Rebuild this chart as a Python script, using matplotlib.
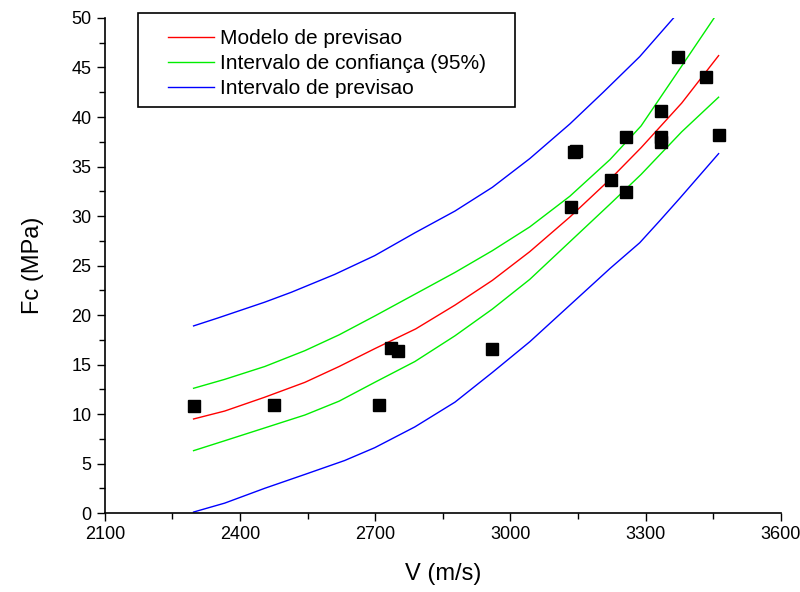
import matplotlib.pyplot as plt
import matplotlib.ticker as ticker
from matplotlib.patches import Rectangle

plt.rcParams['font.family'] = ['Liberation Sans', 'DejaVu Sans']

# ensaios (V, Fc)
v_data = [2297, 2475, 2708, 2735, 2750, 2959, 3134, 3141, 3145, 3223,
          3256, 3256, 3334, 3334, 3334, 3371, 3433, 3462]
fc_data = [10.8, 10.9, 10.9, 16.7, 16.4, 16.6, 30.9, 36.5, 36.6, 33.6,
           38.0, 32.4, 40.6, 38.0, 37.5, 46.1, 44.0, 38.2]

# curvas
v_model = [2297, 2366, 2455, 2544, 2620, 2699, 2790, 2877, 2960, 3043,
           3132, 3221, 3290, 3380, 3462]
fc_model = [9.5, 10.3, 11.7, 13.2, 14.8, 16.6, 18.6, 21.0, 23.5, 26.4,
            29.9, 33.7, 36.9, 41.4, 46.2]

v_conf_up = [2297, 2366, 2455, 2544, 2620, 2699, 2788, 2877, 2960, 3043,
             3132, 3221, 3290, 3369, 3452]
fc_conf_up = [12.6, 13.5, 14.8, 16.4, 18.0, 19.9, 22.1, 24.3, 26.5, 28.9,
              32.0, 35.7, 39.1, 44.4, 50.0]

v_conf_lo = [2297, 2366, 2455, 2544, 2620, 2699, 2788, 2877, 2960, 3043,
             3132, 3221, 3290, 3380, 3462]
fc_conf_lo = [6.3, 7.3, 8.6, 9.9, 11.3, 13.2, 15.3, 17.9, 20.6, 23.6,
              27.4, 31.2, 34.2, 38.5, 42.0]

v_prev_up = [2297, 2351, 2455, 2514, 2610, 2699, 2788, 2877, 2960, 3043,
             3132, 3206, 3287, 3362]
fc_prev_up = [18.9, 19.7, 21.3, 22.3, 24.1, 26.0, 28.3, 30.5, 32.9, 35.8,
              39.3, 42.5, 46.1, 50.0]

v_prev_lo = [2297, 2366, 2455, 2544, 2632, 2699, 2788, 2877, 2960, 3043,
             3132, 3221, 3287, 3331, 3376, 3462]
fc_prev_lo = [0.1, 1.0, 2.5, 3.9, 5.3, 6.6, 8.7, 11.2, 14.2, 17.3,
              21.0, 24.7, 27.3, 29.5, 31.8, 36.3]

fig = plt.figure(figsize=(8, 5.92), dpi=100)
ax = fig.add_axes([0.131, 0.1334, 0.845, 0.8362])

l1, = ax.plot(v_model, fc_model, color='#ff0000', lw=1)
l2, = ax.plot(v_conf_up, fc_conf_up, color='#00ee00', lw=1)
ax.plot(v_conf_lo, fc_conf_lo, color='#00ee00', lw=1)
l3, = ax.plot(v_prev_up, fc_prev_up, color='#0000ff', lw=1)
ax.plot(v_prev_lo, fc_prev_lo, color='#0000ff', lw=1)
ax.plot(v_data, fc_data, 's', color='black', ms=8, zorder=5)

ax.set_xlim(2100, 3600)
ax.set_ylim(0, 50)
ax.xaxis.set_major_locator(ticker.MultipleLocator(300))
ax.xaxis.set_minor_locator(ticker.MultipleLocator(150))
ax.yaxis.set_major_locator(ticker.MultipleLocator(5))
ax.yaxis.set_minor_locator(ticker.MultipleLocator(2.5))
ax.tick_params(which='major', direction='out', length=6, width=1, labelsize=13)
ax.tick_params(which='minor', direction='out', length=4, width=1)

ax.spines['top'].set_visible(False)
ax.spines['right'].set_visible(False)
for s in ('left', 'bottom'):
    ax.spines[s].set_linewidth(1.2)

ax.set_xlabel('V (m/s)', fontsize=17, labelpad=14)
ax.set_ylabel('Fc (MPa)', fontsize=17, labelpad=20)

# caixa da legenda desenhada a parte (margem esquerda maior que no matplotlib)
box = Rectangle((138 / 800, 1 - 107 / 592), 377 / 800, 94 / 592,
                transform=fig.transFigure, facecolor='white',
                edgecolor='black', lw=1.2, zorder=10)
fig.patches.append(box)
leg = fig.legend([l1, l2, l3],
                 ['Modelo de previsao', 'Intervalo de confiança (95%)',
                  'Intervalo de previsao'],
                 loc='upper left', bbox_to_anchor=(168 / 800, 1 - 29 / 592),
                 fontsize=15, frameon=False, handlelength=2.2,
                 handletextpad=0.3, labelspacing=0.3, borderpad=0,
                 borderaxespad=0)
leg.set_zorder(11)

fig.savefig('out.png', dpi=100)
